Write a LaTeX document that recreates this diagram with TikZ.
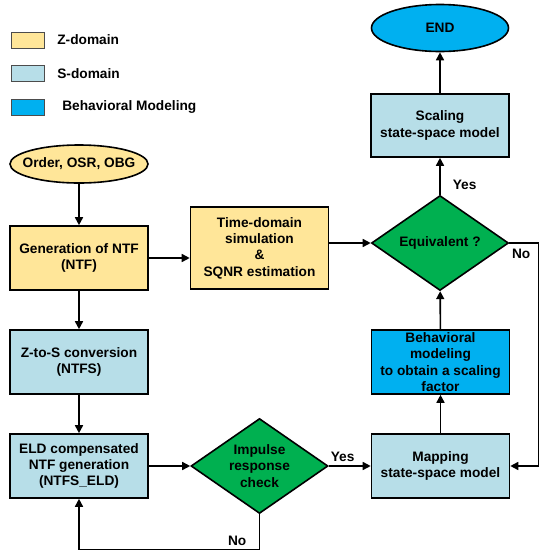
\documentclass[tikz,border=0pt]{standalone}
\usepackage{fontspec}
\setmainfont{Liberation Sans}
\usetikzlibrary{positioning,shapes.geometric,arrows.meta}
\definecolor{zfill}{HTML}{FFE699}
\definecolor{sfill}{HTML}{B7DEE8}
\definecolor{bfill}{HTML}{00B0F0}
\definecolor{dfill}{HTML}{00B050}

\begin{document}
\begin{tikzpicture}[node distance=104pt, line width=1.6pt,
    font=\bfseries\fontsize{13.7}{16.3}\selectfont,
    >={Triangle[length=8pt,width=8pt]},
    block/.style={rectangle, draw, align=center, minimum width=138pt, minimum height=64pt, inner sep=2pt},
    terminal/.style={ellipse, draw, minimum width=138pt, minimum height=38pt, inner sep=0pt},
    decision/.style={diamond, draw, fill=dfill, align=center, aspect=1.45, minimum width=137pt, minimum height=95pt, inner sep=0pt},
    legbox/.style={rectangle, draw=black!70, line width=1pt, minimum width=33pt, minimum height=16pt, inner sep=0pt}]
    \useasboundingbox (0pt,0pt) rectangle (539pt,-550pt);

    % legend
    \node[legbox, fill=zfill] (lz) at (27.5pt,-40pt) {};
    \node[right=8.7pt of lz] (lzt) {Z-domain};
    \node[legbox, fill=sfill, node distance=33.5pt, below of=lz] (ls) {};
    \node[right=8.7pt of ls] (lst) {S-domain};
    \node[legbox, fill=bfill, node distance=33.5pt, below of=ls] (lb) {};
    \node[right=13.7pt of lb] (lbt) {Behavioral Modeling};

    % left column
    \node[terminal, fill=zfill] (start) at (79pt,-164pt) {\makebox[60pt]{Order, OSR, OBG}};
    \node[block, fill=zfill, node distance=94pt, below of=start] (ntf) {Generation of NTF\\(NTF)};
    \node[block, fill=sfill, below of=ntf] (zts) {Z-to-S conversion\\(NTFS)};
    \node[block, fill=sfill, below of=zts] (eld) {ELD compensated\\NTF generation\\(NTFS\_ELD)};

    % middle and right columns
    \node[decision, node distance=180.5pt, right of=eld] (imp) {Impulse\\response\\check};
    \node[block, fill=sfill, node distance=181pt, right of=imp] (map) {Mapping\\state-space model};
    \node[block, fill=bfill, above of=map] (beh) {Behavioral\\modeling\\to obtain a scaling\\factor};
    \node[block, fill=zfill, minimum height=82pt, node distance=180.5pt, right of=ntf, yshift=10pt] (tds) {Time-domain\\simulation\\\&\\SQNR estimation};
    \node[decision, node distance=180.5pt, right of=tds, yshift=5pt] (eqv) {Equivalent ?};
    \node[block, fill=sfill, minimum height=63pt, node distance=117.5pt, above of=eqv] (scl) {Scaling\\state-space model};
    \node[terminal, fill=bfill, minimum width=137pt, minimum height=47pt, node distance=97.5pt, above of=scl] (end) {END};

    \draw[->] (start) -- (ntf);
    \draw[->] (ntf) -- (zts);
    \draw[->] (zts) -- (eld);
    \draw[->] (ntf.east) -- (ntf.east -| tds.west);
    \draw[->] (tds.east |- eqv.west) -- (eqv.west);
    \draw[->] (eld) -- (imp);
    \draw[->] (imp) -- node[pos=0.33, above] (yes1) {Yes} (map);
    \draw[->] (imp.south) -- ++(0,-35pt) coordinate (fb) node[above left, xshift=-9pt] (no1) {No} -| (eld.south);
    \draw[->] (map) -- (beh);
    \draw[->] (beh) -- (eqv);
    \draw[->] (eqv) -- node[pos=0.26, right, xshift=8.7pt] (yes2) {Yes} (scl);
    \draw[->] (scl) -- (end);
    \draw[->] (eqv.east) node[below right, inner sep=2pt, yshift=-3pt] (no2) {No} -- ++(29pt,0) coordinate (rt) |- (map.east);
\end{tikzpicture}
\end{document}
